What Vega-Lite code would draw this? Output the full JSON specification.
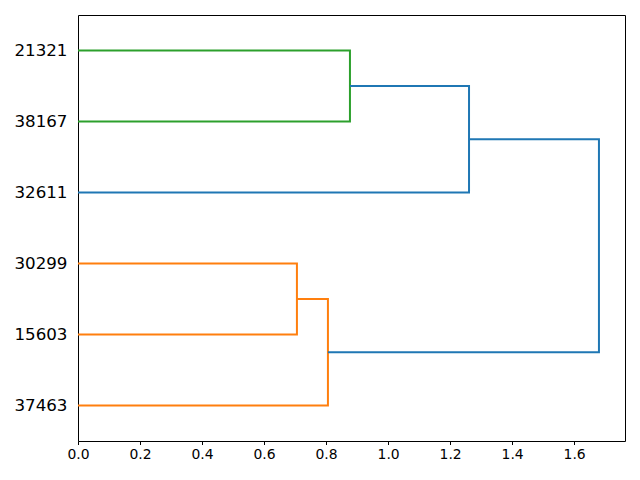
{
  "$schema": "https://vega.github.io/schema/vega-lite/v6.json",
  "width": 547,
  "height": 426,
  "autosize": {"type": "none"},
  "padding": {"left": 78, "top": 15, "right": 15, "bottom": 39},
  "background": "white",
  "config": {
    "view": {"stroke": "black", "strokeWidth": 1},
    "font": "DejaVu Sans"
  },
  "data": {
    "values": [
      {"link": 1, "ord": 1, "x": 0, "y": 55, "c": "g"},
      {"link": 1, "ord": 2, "x": 0.877, "y": 55, "c": "g"},
      {"link": 1, "ord": 3, "x": 0.877, "y": 45, "c": "g"},
      {"link": 1, "ord": 4, "x": 0, "y": 45, "c": "g"},
      {"link": 2, "ord": 1, "x": 0.877, "y": 50, "c": "b"},
      {"link": 2, "ord": 2, "x": 1.261, "y": 50, "c": "b"},
      {"link": 2, "ord": 3, "x": 1.261, "y": 35, "c": "b"},
      {"link": 2, "ord": 4, "x": 0, "y": 35, "c": "b"},
      {"link": 3, "ord": 1, "x": 0, "y": 25, "c": "o"},
      {"link": 3, "ord": 2, "x": 0.706, "y": 25, "c": "o"},
      {"link": 3, "ord": 3, "x": 0.706, "y": 15, "c": "o"},
      {"link": 3, "ord": 4, "x": 0, "y": 15, "c": "o"},
      {"link": 4, "ord": 1, "x": 0.706, "y": 20, "c": "o"},
      {"link": 4, "ord": 2, "x": 0.806, "y": 20, "c": "o"},
      {"link": 4, "ord": 3, "x": 0.806, "y": 5, "c": "o"},
      {"link": 4, "ord": 4, "x": 0, "y": 5, "c": "o"},
      {"link": 5, "ord": 1, "x": 1.261, "y": 42.5, "c": "b"},
      {"link": 5, "ord": 2, "x": 1.68, "y": 42.5, "c": "b"},
      {"link": 5, "ord": 3, "x": 1.68, "y": 12.5, "c": "b"},
      {"link": 5, "ord": 4, "x": 0.806, "y": 12.5, "c": "b"}
    ]
  },
  "mark": {"type": "line", "strokeWidth": 2, "clip": true},
  "encoding": {
    "x": {
      "field": "x", "type": "quantitative",
      "scale": {"domain": [0, 1.764], "nice": false, "zero": false},
      "axis": {
        "title": null, "values": [0, 0.2, 0.4, 0.6, 0.8, 1.0, 1.2, 1.4, 1.6],
        "format": ".1f", "grid": false, "domain": false, "labelFlush": false,
        "tickColor": "black", "tickSize": 3.5, "labelFontSize": 13.9,
        "labelColor": "black", "labelPadding": 3, "labelFont": "DejaVu Sans"
      }
    },
    "y": {
      "field": "y", "type": "quantitative",
      "scale": {"domain": [0, 60], "nice": false, "zero": false},
      "axis": {
        "title": null, "values": [5, 15, 25, 35, 45, 55],
        "labelExpr": "datum.value == 5 ? '37463' : datum.value == 15 ? '15603' : datum.value == 25 ? '30299' : datum.value == 35 ? '32611' : datum.value == 45 ? '38167' : '21321'",
        "grid": false, "domain": false, "ticks": false,
        "labelFontSize": 16.7, "labelColor": "black", "labelPadding": 11,
        "labelFont": "DejaVu Sans"
      }
    },
    "detail": {"field": "link"},
    "order": {"field": "ord", "type": "quantitative"},
    "color": {
      "field": "c", "type": "nominal",
      "scale": {"domain": ["g", "b", "o"], "range": ["#2ca02c", "#1f77b4", "#ff7f0e"]},
      "legend": null
    }
  }
}
